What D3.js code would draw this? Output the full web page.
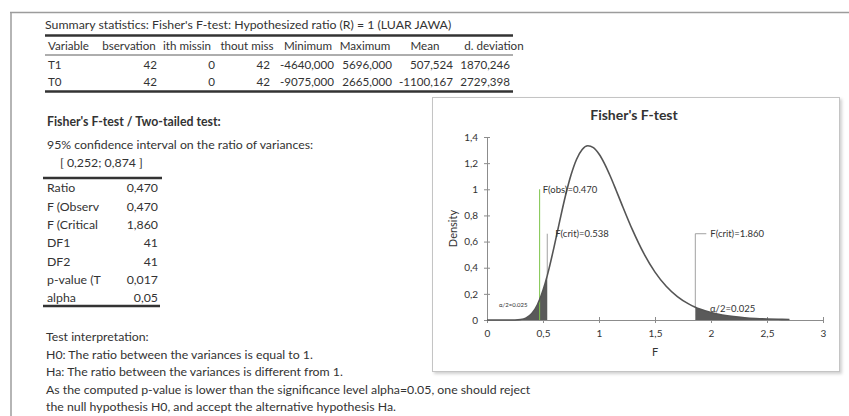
<!DOCTYPE html>
<html>
<head>
<meta charset="utf-8">
<script src="https://cdn.jsdelivr.net/npm/d3@7"></script>
<style>
  body { margin: 0; background: #fff; }
  svg { display: block; }
  text { font-family: Lato, "Noto Sans", sans-serif; fill: #333; }
</style>
</head>
<body>
<svg id="sheet" width="849" height="416"></svg>
<script>
// ---- Summary statistics table ----
const summaryTitle = "Summary statistics: Fisher's F-test: Hypothesized ratio (R) = 1 (LUAR JAWA)";
const summaryHeader = ["Variable", "bservation", "ith missin", "thout miss", "Minimum", "Maximum", "Mean", "d. deviation"];
const summaryRows = [
  ["T1", "42", "0", "42", "-4640,000", "5696,000", "507,524", "1870,246"],
  ["T0", "42", "0", "42", "-9075,000", "2665,000", "-1100,167", "2729,398"]
];

// ---- Test results ----
const testTitle = "Fisher's F-test / Two-tailed test:";
const ciCaption = "95% confidence interval on the ratio of variances:";
const ciBounds = ["0,252", "0,874"];
const testLabels = ["Ratio", "F (Observ", "F (Critical", "DF1", "DF2", "p-value (T", "alpha"];
const testValues = ["0,470", "0,470", "1,860", "41", "41", "0,017", "0,05"];
const interpretation = [
  "Test interpretation:",
  "H0: The ratio between the variances is equal to 1.",
  "Ha: The ratio between the variances is different from 1.",
  "As the computed p-value is lower than the significance level alpha=0.05, one should reject",
  "the null hypothesis H0, and accept the alternative hypothesis Ha."
];

// ---- F density curve, df1 = 41, df2 = 41 ----
const fValues = [0, 0.1, 0.2, 0.25, 0.3, 0.35, 0.4, 0.45, 0.47, 0.5, 0.538, 0.55, 0.6, 0.65, 0.7,
  0.75, 0.8, 0.85, 0.9, 0.95, 1.0, 1.05, 1.1, 1.15, 1.2, 1.3, 1.4, 1.5, 1.6, 1.7, 1.8, 1.86,
  1.9, 2.0, 2.1, 2.2, 2.3, 2.4, 2.5, 2.6, 2.7];
const densityValues = [0, 0, 0.0000, 0.0005, 0.0038, 0.0163, 0.0495, 0.1168, 0.1555, 0.2270, 0.3396,
  0.3796, 0.5635, 0.7600, 0.9482, 1.1091, 1.2301, 1.3047, 1.3327, 1.3185, 1.2696, 1.1945,
  1.1016, 0.9989, 0.8925, 0.6870, 0.5090, 0.3666, 0.2584, 0.1793, 0.1231, 0.0978, 0.0838,
  0.0568, 0.0383, 0.0258, 0.0174, 0.0117, 0.0079, 0.0054, 0.0036];
const fObserved = 0.470;
const fObservedMarkerTop = 1.0;
const fCritLow = 0.538;
const fCritHigh = 1.860;
const critMarkerTop = 0.66;
const halfAlphaText = "\u03b1/2=0.025";
const xTicks = [0, 0.5, 1, 1.5, 2, 2.5, 3];
const yTicks = [0, 0.2, 0.4, 0.6, 0.8, 1, 1.2, 1.4];

const svg = d3.select("#sheet");
svg.append("rect").attr("width", 849).attr("height", 416).attr("fill", "#fff");

// worksheet frame
svg.append("line").attr("x1", 10).attr("x2", 849).attr("y1", 12.5).attr("y2", 12.5)
  .attr("stroke", "#9c9c9c").attr("stroke-width", 1.5);
svg.append("line").attr("x1", 11).attr("x2", 11).attr("y1", 12).attr("y2", 416)
  .attr("stroke", "#9c9c9c").attr("stroke-width", 1.5);

const FS = 12.3;
function txt(x, y, s, opts = {}) {
  return svg.append("text").attr("x", x).attr("y", y).attr("dy", "0.35em")
    .attr("font-size", opts.size || FS)
    .attr("font-weight", opts.bold ? 700 : 400)
    .attr("text-anchor", opts.anchor || "start")
    .text(s);
}
function rule(x1, x2, y, w) {
  svg.append("line").attr("x1", x1).attr("x2", x2).attr("y1", y).attr("y2", y)
    .attr("stroke", "#333").attr("stroke-width", w);
}

// ---- summary table ----
const TS = 11.6;
txt(45, 25, summaryTitle);
rule(45, 513, 35.5, 2.5);
rule(45, 513, 55, 0.8);
rule(45, 513, 91.5, 2.5);
const headerX = [48, 129, 187, 247, 308, 365, 425, 494];
summaryHeader.forEach((h, i) => txt(headerX[i], 46, h, { anchor: i === 0 ? "start" : "middle", size: TS }));
const valueRight = [48, 157, 215, 270, 334, 392, 453, 510];
summaryRows.forEach((row, r) => {
  row.forEach((v, i) => txt(valueRight[i], 65 + r * 17, v, { anchor: i === 0 ? "start" : "end", size: TS }));
});

// ---- test block ----
txt(47, 122, testTitle, { bold: true });
txt(47, 145, ciCaption);
txt(60, 163, `[ ${ciBounds[0]}; ${ciBounds[1]} ]`);
rule(43, 162, 178, 2.5);
testLabels.forEach((l, i) => {
  const yy = 188 + i * 18.3;
  txt(47, yy, l);
  txt(158, yy, testValues[i], { anchor: "end" });
});
rule(43, 160, 306, 2.5);
interpretation.forEach((l, i) => txt(46, 337 + i * 17.5, l));

// ---- chart ----
const defs = svg.append("defs");
const f = defs.append("filter").attr("id", "shadow").attr("x", "-5%").attr("y", "-5%")
  .attr("width", "112%").attr("height", "115%");
f.append("feDropShadow").attr("dx", 2).attr("dy", 2).attr("stdDeviation", 1.5)
  .attr("flood-color", "#000").attr("flood-opacity", 0.18);
svg.append("rect").attr("x", 432.5).attr("y", 97.5).attr("width", 407).attr("height", 274)
  .attr("fill", "#fff").attr("stroke", "#c4c4c4").attr("filter", "url(#shadow)");

const x = d3.scaleLinear().domain([0, 3]).range([487, 823]);
const y = d3.scaleLinear().domain([0, 1.4]).range([320, 137]);
const loc = d3.formatLocale({ decimal: ",", thousands: ".", grouping: [3], currency: ["", ""] });
const fmt = loc.format(".1~f");

svg.append("text").attr("x", 634).attr("y", 115).attr("dy", "0.35em")
  .attr("text-anchor", "middle").attr("font-size", 14).attr("font-weight", 700)
  .text("Fisher's F-test");

const axisColor = "#8c8c8c";
const gy = svg.append("g").attr("transform", `translate(${x(0)},0)`)
  .call(d3.axisLeft(y).tickValues(yTicks).tickFormat(fmt).tickSize(3).tickPadding(6));
gy.selectAll(".tick line").attr("x1", 3);
const gx = svg.append("g").attr("transform", `translate(0,${y(0)})`)
  .call(d3.axisBottom(x).tickValues(xTicks).tickFormat(fmt).tickSize(3).tickPadding(7));
gx.selectAll(".tick line").attr("y1", -3);
[gx, gy].forEach(g => {
  g.select(".domain").attr("stroke", axisColor);
  g.selectAll(".tick line").attr("stroke", axisColor);
  g.selectAll(".tick text").attr("font-size", 10).attr("font-family", "Lato, sans-serif").attr("fill", "#333");
});

svg.append("text").attr("transform", `translate(453,${(y(0) + y(1.4)) / 2}) rotate(-90)`)
  .attr("text-anchor", "middle").attr("dy", "0.35em").attr("font-size", 11).text("Density");
svg.append("text").attr("x", (x(0) + x(3)) / 2).attr("y", 352).attr("dy", "0.35em")
  .attr("text-anchor", "middle").attr("font-size", 11).text("F");

const pts = fValues.map((v, i) => ({ f: v, d: densityValues[i] }));
const area = d3.area().x(p => x(p.f)).y0(y(0)).y1(p => y(p.d)).curve(d3.curveMonotoneX);
const line = d3.line().x(p => x(p.f)).y(p => y(p.d)).curve(d3.curveMonotoneX);

const tailColor = "#5a5a5a";
svg.append("path").datum(pts.filter(p => p.f <= fCritLow)).attr("d", area).attr("fill", tailColor);
svg.append("path").datum(pts.filter(p => p.f >= fCritHigh)).attr("d", area).attr("fill", tailColor);

// observed statistic marker
svg.append("line").attr("x1", x(fObserved)).attr("x2", x(fObserved))
  .attr("y1", y(0)).attr("y2", y(fObservedMarkerTop)).attr("stroke", "#7cc44a").attr("stroke-width", 1);

// critical value markers
const critLowD = densityValues[fValues.indexOf(fCritLow)];
const critHighD = densityValues[fValues.indexOf(fCritHigh)];
svg.append("line").attr("x1", x(fCritLow)).attr("x2", x(fCritLow))
  .attr("y1", y(critLowD)).attr("y2", y(critMarkerTop)).attr("stroke", "#8a8a8a").attr("stroke-width", 0.8);
svg.append("line").attr("x1", x(fCritHigh)).attr("x2", x(fCritHigh))
  .attr("y1", y(critHighD)).attr("y2", y(critMarkerTop)).attr("stroke", "#8a8a8a").attr("stroke-width", 0.8);
svg.append("line").attr("x1", x(fCritHigh)).attr("x2", x(fCritHigh) + 11)
  .attr("y1", y(critMarkerTop)).attr("y2", y(critMarkerTop)).attr("stroke", "#8a8a8a").attr("stroke-width", 0.8);

svg.append("path").datum(pts).attr("d", line).attr("fill", "none")
  .attr("stroke", "#555").attr("stroke-width", 1.6);

const lab = (xx, yy, s, size) => svg.append("text").attr("x", xx).attr("y", yy).attr("dy", "0.35em")
  .attr("font-size", size).attr("fill", "#333").text(s);
lab(x(fObserved) + 3, y(fObservedMarkerTop), "F(obs)=" + fObserved.toFixed(3), 9.5);
lab(x(fCritLow) + 8, y(critMarkerTop), "F(crit)=" + fCritLow.toFixed(3), 9.5);
lab(x(fCritHigh) + 15, y(critMarkerTop), "F(crit)=" + fCritHigh.toFixed(3), 9.5);
lab(499, 305, halfAlphaText, 6);
lab(710, 308.5, halfAlphaText, 9.5);
</script>
</body>
</html>
